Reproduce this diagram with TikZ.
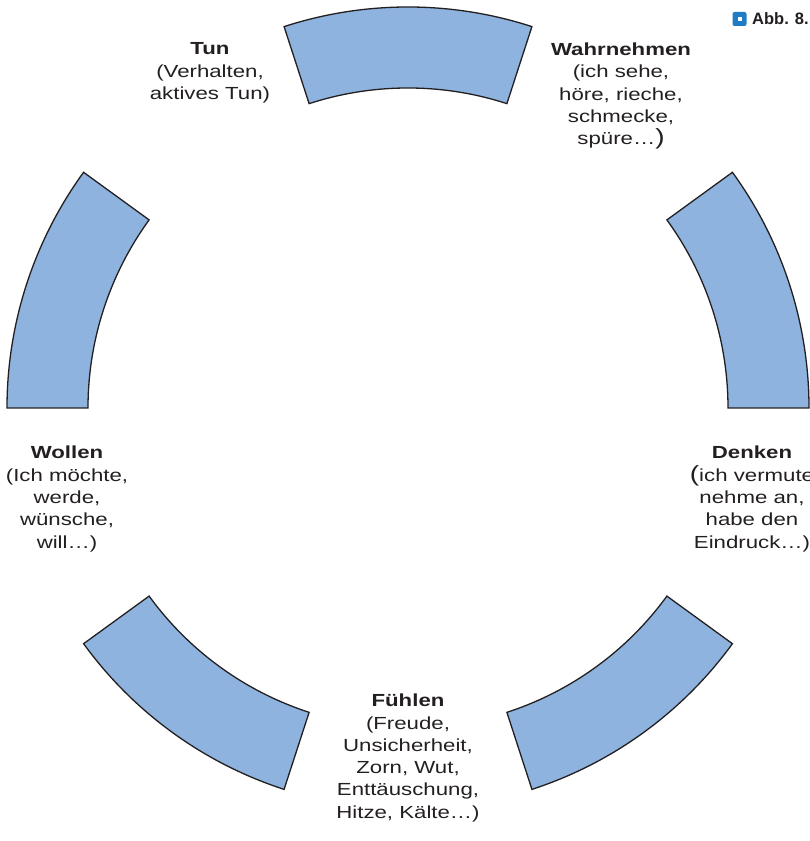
\documentclass[tikz,border=0pt]{standalone}
\usepackage{fontspec}
\setmainfont{Liberation Sans}[FakeStretch=1.27]
\newfontfamily\tagfont{Liberation Sans}
\definecolor{segfill}{RGB}{141,179,222}
\definecolor{tagblue}{RGB}{30,123,196}
\definecolor{ink}{RGB}{35,31,32}
\newcommand{\hd}[1]{{\bfseries #1}}
\newcommand{\bigp}[1]{{\fontsize{22}{22.3}\selectfont #1}}
\begin{document}
\begin{tikzpicture}[x=1pt,y=1pt,
  segment/.style={fill=segfill, draw=ink, line width=1.3pt, line join=miter},
  caption/.style={align=center, text=ink, inner sep=0pt,
    font=\fontsize{17.5}{22.3}\selectfont},
]
\useasboundingbox (0,0) rectangle (810,841);
\coordinate (c) at (408,433);

% five ring segments, 36 degrees wide, 72 degrees apart
\foreach \a in {0,72,144,216,288} {
  \path[segment, shift={(c)}]
    (\a:320pt) -- (\a:401pt)
    arc[start angle=\a, end angle={\a+36}, radius=401pt]
    -- ({\a+36}:320pt)
    arc[start angle={\a+36}, end angle=\a, radius=320pt]
    -- cycle;
}

\node[caption] (tun) at (210,768)
  {\hd{Tun}\\(Verhalten,\\aktives Tun)};
\node[caption] (wahr) at (621,745)
  {\hd{Wahrnehmen}\\(ich sehe,\\höre, rieche,\\schmecke,\\spüre…\bigp{)}};
\node[caption] (denk) at (752,342)
  {\hd{Denken}\\\bigp{(}ich vermute\\nehme an,\\habe den\\Eindruck…)};
\node[caption] (woll) at (67,342)
  {\hd{Wollen}\\(Ich möchte,\\werde,\\wünsche,\\will…)};
\node[caption] (fuehl) at (408,83)
  {\hd{Fühlen}\\(Freude,\\Unsicherheit,\\Zorn, Wut,\\Enttäuschung,\\Hitze, Kälte…)};

% figure tag
\node[fill=tagblue, rounded corners=2pt, minimum size=14pt, inner sep=0pt] (tag) at (739.5,822) {};
\node[fill=white, minimum size=4pt, inner sep=0pt] (tagdot) at (tag) {};
\node[anchor=base west, inner sep=0pt, text=ink, font=\tagfont\bfseries\fontsize{16.5}{18}\selectfont] (abb) at (752,816) {Abb. 8.};
\end{tikzpicture}
\end{document}
